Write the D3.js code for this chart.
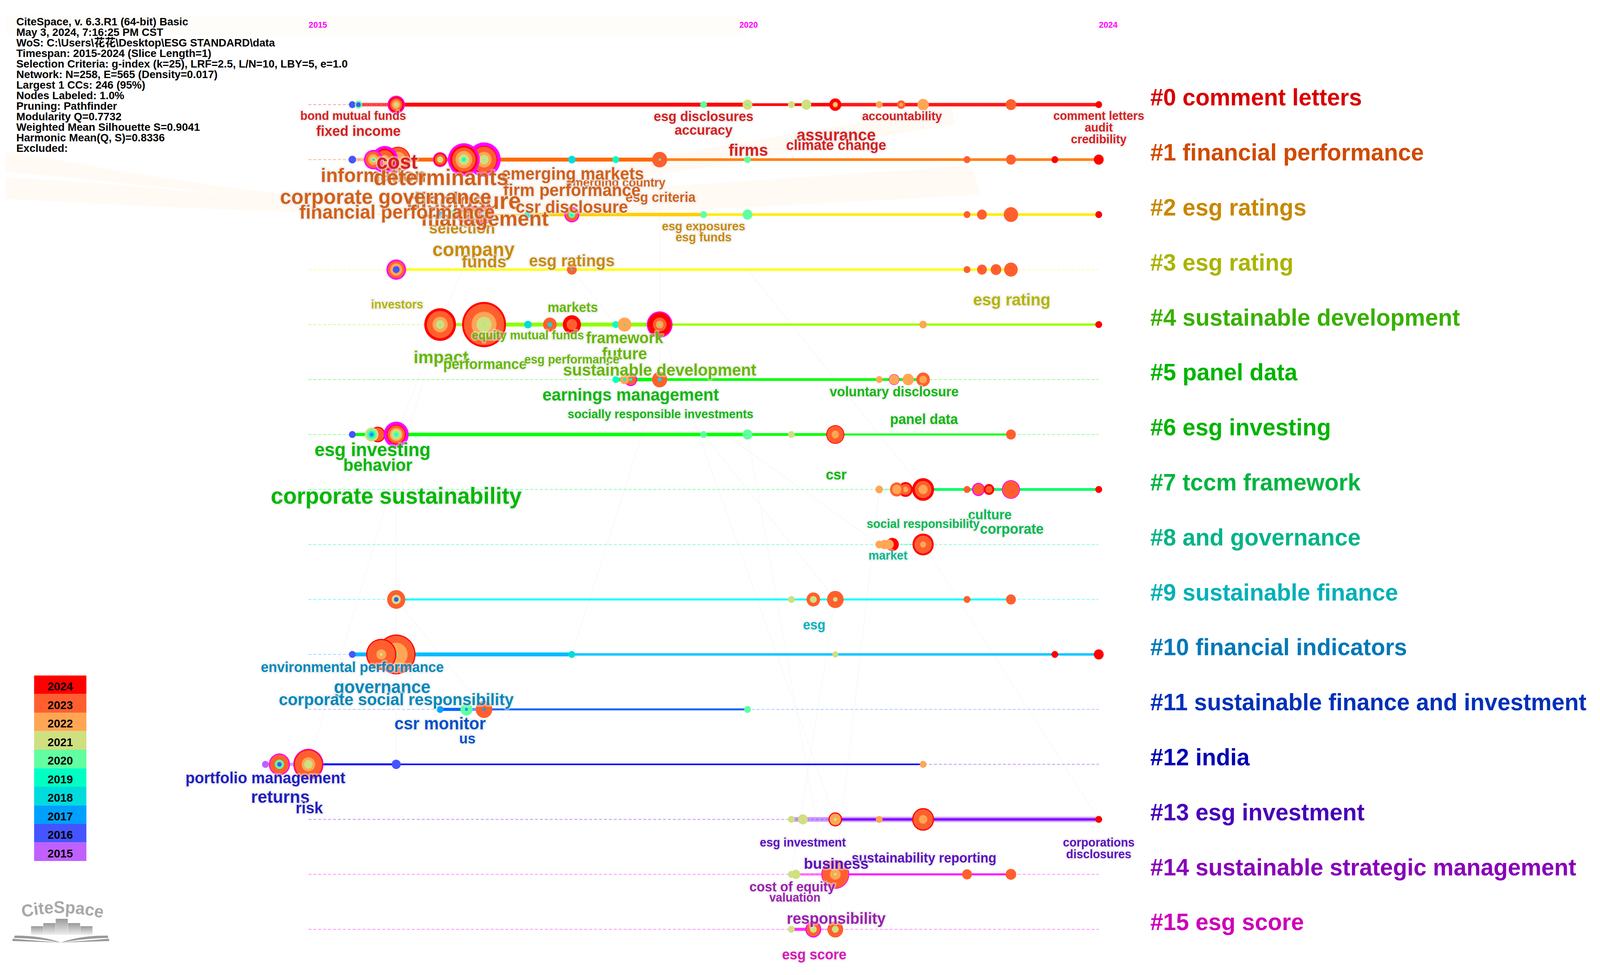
<!DOCTYPE html>
<html>
<head>
<meta charset="utf-8">
<script src="https://cdnjs.cloudflare.com/ajax/libs/d3/7.8.5/d3.min.js"></script>
<style>
html, body { margin: 0; padding: 0; background: #fff; overflow: hidden; }
svg { display: block; }
text { font-family: "Liberation Sans", Arial, "Noto Sans CJK SC", sans-serif; font-weight: 700; }
</style>
</head>
<body>
<svg></svg>
<script>
var svgWidth = 4223;
var svgHeight = 2497;

// ---- data ----
var infoLines = [
  "CiteSpace, v. 6.3.R1 (64-bit) Basic",
  "May 3, 2024, 7:16:25 PM CST",
  "WoS: C:\\Users\\花花\\Desktop\\ESG STANDARD\\data",
  "Timespan: 2015-2024 (Slice Length=1)",
  "Selection Criteria: g-index (k=25), LRF=2.5, L/N=10, LBY=5, e=1.0",
  "Network: N=258, E=565 (Density=0.017)",
  "Largest 1 CCs: 246 (95%)",
  "Nodes Labeled: 1.0%",
  "Pruning: Pathfinder",
  "Modularity Q=0.7732",
  "Weighted Mean Silhouette S=0.9041",
  "Harmonic Mean(Q, S)=0.8336",
  "Excluded:"
];
var yearTicks = [2015, 2020, 2024];
var legendYears = [2024, 2023, 2022, 2021, 2020, 2019, 2018, 2017, 2016, 2015];
var clusterNames = [
  "#0 comment letters", "#1 financial performance", "#2 esg ratings", "#3 esg rating",
  "#4 sustainable development", "#5 panel data", "#6 esg investing", "#7 tccm framework",
  "#8 and governance", "#9 sustainable finance", "#10 financial indicators",
  "#11 sustainable finance and investment", "#12 india", "#13 esg investment",
  "#14 sustainable strategic management", "#15 esg score"
];

// one list per cluster row: [year, rings], rings from the outside in: [ring year, size]
// ring year 0 is the purple centrality ring
var nodes0 = [
  [2015.5, [[2016, 9]]], [2015.57, [[2020, 10], [2016, 6]]],
  [2016, [[0, 23], [2024, 20], [2023, 16], [2022, 11], [2021, 6]]],
  [2019.5, [[2020, 9]]], [2020, [[2021, 13], [2020, 3]]], [2020.5, [[2021, 9]]], [2020.67, [[2021, 13]]],
  [2021, [[2024, 16], [2022, 7], [2021, 3.5]]], [2021.5, [[2022, 9]]], [2021.75, [[2023, 11], [2022, 5]]],
  [2022, [[2022, 15]]], [2023, [[2023, 14]]], [2024, [[2024, 9]]]
];
var nodes1 = [
  [2015.5, [[2016, 10]]],
  [2016.02, [[2024, 33], [2023, 31], [2022, 20]]],
  [2015.87, [[0, 35], [2024, 28], [2023, 24], [2022, 12]]],
  [2015.74, [[0, 25], [2023, 21], [2022, 14], [2021, 8], [2018, 3]]],
  [2016.5, [[0, 19], [2024, 17], [2023, 14], [2021, 8]]],
  [2017, [[0, 44], [2024, 35], [2023, 33], [2022, 20], [2021, 12], [2020, 2]]],
  [2016.77, [[0, 42], [2024, 36], [2023, 31], [2022, 22], [2021, 14], [2020, 7], [2019, 4]]],
  [2018, [[2018, 10]]], [2018.5, [[2019, 9]]], [2019, [[2023, 20], [2020, 3]]], [2020, [[2020, 9]]],
  [2022.5, [[2023, 9]]], [2023, [[2023, 13]]], [2023.5, [[2024, 9]]], [2024, [[2024, 13]]]
];
var nodes2 = [
  [2016.5, [[2017, 9]]], [2016.65, [[2020, 12]]],
  [2017, [[0, 24], [2023, 21], [2020, 8], [2019, 3]]],
  [2016.88, [[0, 22], [2023, 19], [2021, 8]]],
  [2016.77, [[0, 20], [2023, 18], [2022, 8]]],
  [2017.5, [[2018, 9]]], [2018, [[0, 20], [2023, 17], [2020, 9], [2019, 4]]],
  [2019.5, [[2020, 9]]], [2020, [[2020, 13]]], [2022.5, [[2023, 9]]], [2022.67, [[2023, 13]]],
  [2023, [[2023, 19]]], [2024, [[2024, 9]]]
];
var nodes3 = [
  [2016, [[0, 26], [2023, 22], [2022, 16], [2016, 9]]], [2018, [[2023, 13], [2018, 3]]],
  [2022.5, [[2023, 9]]], [2022.67, [[2023, 13]]], [2022.83, [[2023, 14]]], [2023, [[2023, 18]]]
];
var nodes4 = [
  [2016.5, [[2024, 42], [2023, 35], [2022, 20], [2021, 11], [2020, 3]]],
  [2017, [[2024, 58], [2023, 53], [2022, 33], [2021, 20], [2020, 2]]],
  [2017.5, [[2018, 10]]], [2017.75, [[2023, 18], [2018, 6]]], [2018, [[2024, 24], [2023, 14]]],
  [2018.5, [[2019, 9]]], [2018.6, [[2022, 18], [2019, 2]]],
  [2019, [[0, 34], [2024, 31], [2023, 18], [2022, 10], [2020, 3]]],
  [2022, [[2022, 10]]], [2024, [[2024, 9]]]
];
var nodes5 = [
  [2018.5, [[2019, 9]]], [2018.67, [[0, 17], [2023, 14], [2019, 4]]], [2018.6, [[2022, 12], [2019, 4]]],
  [2019, [[2023, 20], [2018, 5]]], [2021.5, [[2022, 9]]], [2021.67, [[0, 14], [2022, 13]]],
  [2021.83, [[2022, 15]]], [2022, [[2023, 18], [2022, 10]]]
];
var nodes6 = [
  [2015.5, [[2016, 9]]], [2015.79, [[2024, 20], [2023, 17]]],
  [2015.72, [[2021, 18], [2020, 13], [2018, 8], [2016, 3]]],
  [2016, [[0, 33], [2024, 25], [2023, 23], [2022, 17], [2021, 13], [2020, 8], [2019, 3]]],
  [2019.5, [[2020, 9]]], [2020, [[2020, 13]]], [2020.5, [[2021, 9]]],
  [2021, [[2024, 24], [2023, 22], [2022, 10]]], [2023, [[2023, 13]]]
];
var nodes7 = [
  [2021.5, [[2022, 10]]], [2021.8, [[2024, 19], [2023, 14], [2022, 7]]], [2021.7, [[2023, 18], [2022, 12]]],
  [2022, [[2024, 29], [2023, 22], [2022, 12]]], [2022.5, [[2023, 9]]], [2022.63, [[0, 17], [2023, 14]]],
  [2022.75, [[2024, 14], [2023, 9]]], [2023, [[0, 24], [2023, 22]]], [2024, [[2024, 9]]]
];
var nodes8 = [
  [2021.65, [[2024, 17]]], [2021.61, [[2022, 13]]], [2021.56, [[2022, 12]]], [2021.5, [[2022, 10]]],
  [2022, [[2024, 28], [2023, 23], [2022, 8]]]
];
var nodes9 = [
  [2016, [[2023, 24], [2021, 12], [2016, 6]]], [2020.5, [[2021, 9]]], [2020.75, [[2023, 18], [2021, 9]]],
  [2021, [[2023, 22], [2021, 6]]], [2022.5, [[2023, 9]]], [2023, [[2023, 13]]]
];
var nodes10 = [
  [2015.5, [[2016, 9]]], [2016, [[2024, 51], [2023, 48], [2022, 30], [2020, 4]]],
  [2015.83, [[2024, 40], [2023, 37], [2022, 13], [2021, 4]]],
  [2018, [[2018, 9]]], [2021, [[2021, 8]]], [2023.5, [[2024, 9]]], [2024, [[2024, 13]]]
];
var nodes11 = [
  [2016.5, [[2017, 9]]], [2016.8, [[2020, 16], [2017, 4]]], [2017, [[2023, 22], [2017, 4]]], [2020, [[2020, 9]]]
];
var nodes12 = [
  [2014.51, [[2015, 9]]], [2014.67, [[0, 28], [2023, 25], [2020, 12], [2016, 6]]],
  [2015, [[0, 40], [2024, 38], [2023, 36], [2022, 18], [2021, 11]]],
  [2016, [[2016, 12]]], [2022, [[2022, 9]]]
];
var nodes13 = [
  [2020.5, [[2021, 9]]], [2020.63, [[2021, 13]]], [2021, [[2024, 18], [2022, 15], [2021, 4]]],
  [2021.5, [[2022, 9]]], [2022, [[2024, 29], [2023, 26], [2022, 11]]], [2024, [[2024, 9]]]
];
var nodes14 = [
  [2020.55, [[2021, 12]]], [2020.5, [[2021, 9]]], [2021, [[0, 37], [2023, 35], [2022, 14], [2021, 4]]],
  [2022.5, [[2023, 13]]], [2023, [[2023, 14]]]
];
var nodes15 = [
  [2020.5, [[2021, 9]]], [2020.75, [[0, 21], [2023, 18], [2021, 9]]], [2021, [[2023, 21], [2021, 9]]]
];
var allNodes = [nodes0, nodes1, nodes2, nodes3, nodes4, nodes5, nodes6, nodes7,
  nodes8, nodes9, nodes10, nodes11, nodes12, nodes13, nodes14, nodes15];

// [row, from year, to year, weight, strength]
var links = [
  [0, 2015.5, 2016, 9, .7], [0, 2016, 2020, 10, 1], [0, 2020, 2020.67, 7, 1], [0, 2020.67, 2021, 9, 1], [0, 2021, 2024, 9, .9],
  [1, 2015.5, 2016, 9, .35], [1, 2016, 2019, 10, 1], [1, 2019, 2024, 7, .9],
  [2, 2017, 2017.5, 4, .5], [2, 2017.5, 2019.5, 9, 1], [2, 2019.5, 2024, 7, .9],
  [3, 2016, 2023, 6, 1],
  [4, 2016.5, 2017, 8, .8], [4, 2017, 2019, 10, 1], [4, 2019, 2024, 6, 1],
  [5, 2018.5, 2019, 9, 1], [5, 2019, 2022, 7, 1],
  [6, 2015.5, 2016, 8, 1], [6, 2016, 2020, 9, 1], [6, 2020, 2021, 7, 1], [6, 2021, 2023, 5, 1],
  [7, 2021.5, 2021.7, 4, .3], [7, 2022, 2024, 7, 1],
  [8, 2021.75, 2022, 4, .25],
  [9, 2016, 2023, 5, 1],
  [10, 2015.5, 2018, 10, 1], [10, 2018, 2024, 6, 1],
  [11, 2016.5, 2016.8, 8, 1], [11, 2016.8, 2017, 8, .6], [11, 2017, 2020, 5, 1],
  [12, 2014.51, 2015, 8, .3], [12, 2015, 2016, 5, 1], [12, 2016, 2022, 4, 1],
  [13, 2020.5, 2021, 12, .4], [13, 2021, 2024, 14, .35], [13, 2021, 2024, 6, 1],
  [14, 2020.5, 2021, 6, .5], [14, 2021, 2023, 5, 1],
  [15, 2020.5, 2020.75, 8, .8], [15, 2020.75, 2021, 4, .3]
];

// [row, year, text], row picks the colour
var keywords = [
  [0, 2015.51, "bond mutual funds"], [0, 2015.57, "fixed income"], [0, 2019.5, "esg disclosures"], [0, 2019.5, "accuracy"],
  [0, 2021.01, "assurance"], [0, 2021.01, "climate change"], [0, 2021.76, "accountability"], [0, 2024, "comment letters"],
  [0, 2024, "audit"], [0, 2024, "credibility"],
  [2, 2016.75, "selection"], [2, 2016.88, "company"], [2, 2017, "funds"], [2, 2018, "esg ratings"], [2, 2019.5, "esg exposures"], [2, 2019.5, "esg funds"],
  [1, 2015.74, "information"], [1, 2018.5, "emerging country"], [1, 2019.01, "esg criteria"], [1, 2018.01, "emerging markets"], [1, 2018, "firm performance"],
  [1, 2017.01, "management"], [1, 2016.77, "disclosure"], [1, 2016.01, "financial performance"], [1, 2015.88, "corporate governance"], [1, 2018, "csr disclosure"],
  [1, 2016.51, "determinants"], [0, 2016.01, "cost"], [0, 2020.01, "firms"],
  [3, 2016.01, "investors"], [3, 2023.01, "esg rating"],
  [4, 2018.01, "markets"], [4, 2017.5, "equity mutual funds"], [4, 2018.6, "framework"], [4, 2018.6, "future"], [4, 2016.51, "impact"],
  [4, 2017.01, "performance"], [4, 2018, "esg performance"], [4, 2019, "sustainable development"],
  [5, 2018.67, "earnings management"], [5, 2019.01, "socially responsible investments"], [5, 2021.67, "voluntary disclosure"], [5, 2022.01, "panel data"],
  [6, 2015.73, "esg investing"], [6, 2015.79, "behavior"], [6, 2016, "corporate sustainability"], [6, 2021.01, "csr"],
  [7, 2022.76, "culture"], [7, 2022, "social responsibility"], [7, 2023.01, "corporate"],
  [8, 2021.6, "market"], [9, 2020.76, "esg"],
  [10, 2015.5, "environmental performance"], [10, 2015.84, "governance"], [10, 2016, "corporate social responsibility"],
  [11, 2016.5, "csr monitor"], [11, 2016.81, "us"],
  [12, 2014.51, "portfolio management"], [12, 2014.68, "returns"], [12, 2015.01, "risk"],
  [13, 2020.63, "esg investment"], [13, 2024, "corporations"], [13, 2024, "disclosures"], [13, 2022.01, "sustainability reporting"], [13, 2021.01, "business"],
  [14, 2020.51, "cost of equity"], [14, 2020.54, "valuation"], [14, 2021.01, "responsibility"], [15, 2020.76, "esg score"]
];

// ---- layout and styles, not data ----
// [centre y, width in px] for each keyword above, same order
var keywordLayout = [
  [296, 279], [335, 223], [298, 263], [333, 153], [345, 209], [371, 264], [297, 211], [296, 240], [326, 74], [356, 147],
  [584, 174], [639, 217], [670, 118], [667, 226], [579, 220], [607, 148],
  [449, 278], [467, 262], [505, 185], [445, 376], [487, 363],
  [559, 336], [514, 302], [543, 516], [504, 558], [530, 296],
  [454, 356], [414, 109], [384, 104],
  [779, 138], [767, 204],
  [787, 133], [858, 296], [865, 204], [906, 119], [914, 145], [933, 220], [920, 251], [947, 510],
  [1011, 466], [1060, 490], [1003, 340], [1074, 179],
  [1151, 306], [1191, 182], [1270, 662], [1215, 55],
  [1318, 115], [1341, 298], [1355, 168],
  [1422, 103], [1600, 59],
  [1708, 483], [1759, 255], [1791, 620],
  [1853, 241], [1891, 43],
  [1992, 422], [2040, 155], [2069, 72],
  [2157, 227], [2157, 189], [2187, 172], [2197, 382], [2211, 171],
  [2271, 226], [2298, 135], [2352, 261], [2445, 170]
];
var yearColors = {0: "#ff00ff", 2024: "#ff0000", 2023: "#ff5f2e", 2022: "#ffa655", 2021: "#cfe080", 2020: "#60ff9f",
  2019: "#00ffc4", 2018: "#00dcdc", 2017: "#00a0ff", 2016: "#4455ff", 2015: "#c060ff"};
var clusterColors = ["#d80000", "#d04a00", "#c88800", "#aab400", "#38b000", "#00b400", "#00b400", "#00b440",
  "#00b488", "#00b0b8", "#0078b8", "#0030b8", "#0000b4", "#4800b8", "#8800b8", "#cc00b8"];
var keywordColors = ["#d62020", "#d2601a", "#c88a08", "#b4b400", "#66b800", "#10b810", "#00b800", "#00b850",
  "#00b890", "#00b4c0", "#0088bb", "#0050c8", "#2020c0", "#5a10c0", "#9a20b0", "#d818b8"];
var trackStart = ["#ff0000", "#ff6000", "#ffb000", "#ffff00", "#80ff00", "#00ff00", "#00ff00", "#00ff66",
  "#00ffaa", "#00ffff", "#00b8ff", "#0066ff", "#0000ff", "#8000ff", "#ff00ff", "#ff00ff"];
var trackEnd = ["#ff0000", "#ff8000", "#ffff00", "#ffff00", "#aaff00", "#00ff00", "#00ff00", "#00ff66",
  "#00ffaa", "#00ffff", "#00ccff", "#0066ff", "#0000ff", "#8000ff", "#ff00ff", "#ff00ff"];
var dashColors = ["#ffa0a0", "#ffb090", "#ffe090", "#ffff90", "#c8ff90", "#90ff90", "#90ff90", "#80ffb0",
  "#80ffd0", "#70ffff", "#90ddff", "#a8c8ff", "#c090ff", "#c090ff", "#ff90ff", "#ff90ff"];
// very pale sweeps behind the chart
var sweeps = [
  "M14,388 C300,430 700,520 1250,525 L1250,545 C800,530 400,470 14,440 Z",
  "M14,455 C400,470 800,530 1250,535 L1250,552 C800,548 400,530 14,509 Z",
  "M1250,500 C1600,420 2100,340 2512,276 L2520,317 C2100,390 1600,470 1250,522 Z",
  "M1250,512 C1700,480 2200,450 2562,424 L2590,498 C2200,520 1700,545 1250,562 Z"
];
// pale grey links crossing the rows: [row a, year a, row b, year b]
var crossLinks = [
  [4, 2016.5, 12, 2015], [6, 2016, 10, 2016], [2, 2017, 6, 2016], [4, 2018, 8, 2021.5], [3, 2018, 9, 2021],
  [4, 2019, 13, 2021], [6, 2020, 15, 2021], [7, 2021.5, 14, 2021], [5, 2019, 10, 2018], [9, 2021, 14, 2020.5],
  [12, 2016, 10, 2016], [13, 2024, 8, 2022], [3, 2020, 7, 2022], [1, 2019, 5, 2019], [11, 2017, 9, 2016]
];

// ---- scales ----
var x = d3.scaleLinear().domain([2015, 2024]).range([814, 2900]);
var y = d3.scalePoint().domain(d3.range(16)).range([268, 2380]);
var r = d3.scaleLinear().domain([0, 60]).range([0, 60]);
var legendY = d3.scaleBand().domain(legendYears).range([1730, 2205]);
var trackTint = function(row, year) {
  return d3.interpolateRgb(trackStart[row], trackEnd[row])((year - 2015) / 9);
};

// the browser window can be narrower than the picture, so draw in picture units and fill the window
var svg = d3.select("svg")
  .attr("width", window.innerWidth)
  .attr("height", window.innerHeight)
  .attr("viewBox", "0 0 " + svgWidth + " " + svgHeight)
  .attr("preserveAspectRatio", "none");
svg.append("rect").attr("width", svgWidth).attr("height", svgHeight).attr("fill", "#fff");

// background
svg.append("rect").attr("x", 14).attr("y", 38).attr("width", 1958).attr("height", 52).attr("fill", "#fffdfa");
svg.selectAll("path.sweep").data(sweeps).enter().append("path")
  .attr("class", "sweep").attr("d", function(d) { return d; }).attr("fill", "#fffaf4");
svg.selectAll("line.cross").data(crossLinks).enter().append("line")
  .attr("class", "cross")
  .attr("x1", function(d) { return x(d[1]); }).attr("y1", function(d) { return y(d[0]); })
  .attr("x2", function(d) { return x(d[3]); }).attr("y2", function(d) { return y(d[2]); })
  .attr("stroke", "#f6f6f6").attr("stroke-width", 1.5);

// dashed tracks
svg.selectAll("line.track").data(d3.range(16)).enter().append("line")
  .attr("class", "track")
  .attr("x1", x(2015)).attr("x2", x(2024))
  .attr("y1", function(d) { return y(d); }).attr("y2", function(d) { return y(d); })
  .attr("stroke", function(d) { return dashColors[d]; })
  .attr("stroke-width", 2)
  .attr("stroke-dasharray", "8 5");

// solid links along the tracks
svg.selectAll("line.link").data(links).enter().append("line")
  .attr("class", "link")
  .attr("x1", function(d) { return x(d[1]); }).attr("x2", function(d) { return x(d[2]); })
  .attr("y1", function(d) { return y(d[0]); }).attr("y2", function(d) { return y(d[0]); })
  .attr("stroke", function(d) { return trackTint(d[0], (d[1] + d[2]) / 2); })
  .attr("stroke-width", function(d) { return d[3]; })
  .attr("stroke-opacity", function(d) { return d[4]; });

// citation tree rings
allNodes.forEach(function(rowNodes, row) {
  var g = svg.append("g");
  var node = g.selectAll("g").data(rowNodes).enter().append("g")
    .attr("transform", function(d) { return "translate(" + x(d[0]) + "," + y(row) + ")"; });
  node.selectAll("circle").data(function(d) { return d[1]; }).enter().append("circle")
    .attr("r", function(d) { return r(d[1]); })
    .attr("fill", function(d) { return yearColors[d[0]]; });
});

// fit a text to a width in px by measuring it
function fitWidth(sel, width) {
  sel.attr("font-size", 40);
  sel.each(function(d, i) {
    var w = this.getComputedTextLength();
    d3.select(this).attr("font-size", 40 * width(d, i) / w);
  });
}

// keywords
var kw = svg.selectAll("text.kw").data(keywords).enter().append("text")
  .attr("class", "kw")
  .attr("text-anchor", "middle")
  .attr("dominant-baseline", "central")
  .attr("x", function(d) { return x(d[1]); })
  .attr("y", function(d, i) { return keywordLayout[i][0]; })
  .attr("fill", function(d) { return keywordColors[d[0]]; })
  .attr("stroke", "rgba(232,232,232,0.5)")
  .attr("stroke-width", 8)
  .attr("stroke-linejoin", "round")
  .attr("paint-order", "stroke")
  .text(function(d) { return d[2]; });
fitWidth(kw, function(d, i) { return keywordLayout[i][1]; });

// cluster names on the right
svg.selectAll("text.cluster").data(clusterNames).enter().append("text")
  .attr("class", "cluster")
  .attr("x", 3036)
  .attr("y", function(d, i) { return y(i) - 19; })
  .attr("dominant-baseline", "central")
  .attr("font-size", 61.3)
  .attr("fill", function(d, i) { return clusterColors[i]; })
  .text(function(d) { return d; });

// info block
svg.selectAll("text.info").data(infoLines).enter().append("text")
  .attr("class", "info")
  .attr("x", 43)
  .attr("y", function(d, i) { return 55 + i * 27; })
  .attr("dominant-baseline", "central")
  .attr("font-size", 28.5)
  .attr("fill", "#000")
  .text(function(d) { return d; });

// years on top
var tickOffset = {2015: 25, 2020: 3, 2024: 25};
svg.selectAll("text.year").data(yearTicks).enter().append("text")
  .attr("class", "year")
  .attr("x", function(d) { return x(d) + tickOffset[d]; })
  .attr("y", 63)
  .attr("text-anchor", "middle")
  .attr("dominant-baseline", "central")
  .attr("font-size", 22)
  .attr("fill", "#ff00ff")
  .text(function(d) { return d; });

// legend
var legend = svg.selectAll("g.legend").data(legendYears).enter().append("g").attr("class", "legend");
legend.append("rect")
  .attr("x", 90).attr("width", 138)
  .attr("y", function(d) { return legendY(d); })
  .attr("height", legendY.bandwidth())
  .attr("fill", function(d) { return yearColors[d]; });
legend.append("text")
  .attr("x", 159)
  .attr("y", function(d) { return legendY(d) + legendY.bandwidth() / 2 + 4; })
  .attr("text-anchor", "middle")
  .attr("dominant-baseline", "central")
  .attr("font-size", 30)
  .attr("fill", "#000")
  .text(function(d) { return d; });

// CiteSpace logo
var defs = svg.append("defs");
var grad = defs.append("linearGradient").attr("id", "bar").attr("x1", 0).attr("x2", 0).attr("y1", 0).attr("y2", 1);
grad.append("stop").attr("offset", "0%").attr("stop-color", "#999");
grad.append("stop").attr("offset", "100%").attr("stop-color", "#eee");
defs.append("path").attr("id", "logoArc").attr("d", "M58,2350 Q165,2326 272,2352");
var logo = svg.append("g");
logo.append("text")
  .attr("font-size", 44).attr("fill", "#a8a8a8")
  .append("textPath").attr("href", "#logoArc").attr("startOffset", "50%").attr("text-anchor", "middle")
  .text("CiteSpace");
var logoBarTops = [2372, 2364, 2353, 2364, 2372];
logo.selectAll("rect").data(logoBarTops).enter().append("rect")
  .attr("x", function(d, i) { return 82 + i * 32.5; })
  .attr("y", function(d) { return d; })
  .attr("width", 32)
  .attr("height", function(d) { return 2394 - d; })
  .attr("fill", "url(#bar)");
var wings = ["M33,2404 L161,2414 L33,2410 Z", "M39,2396 Q110,2396 161,2414 Q100,2403 37,2402 Z",
  "M288,2404 L161,2414 L288,2410 Z", "M284,2396 Q210,2396 161,2414 Q225,2403 286,2402 Z"];
logo.selectAll("path").data(wings).enter().append("path")
  .attr("d", function(d) { return d; }).attr("fill", "#999");
</script>
</body>
</html>
